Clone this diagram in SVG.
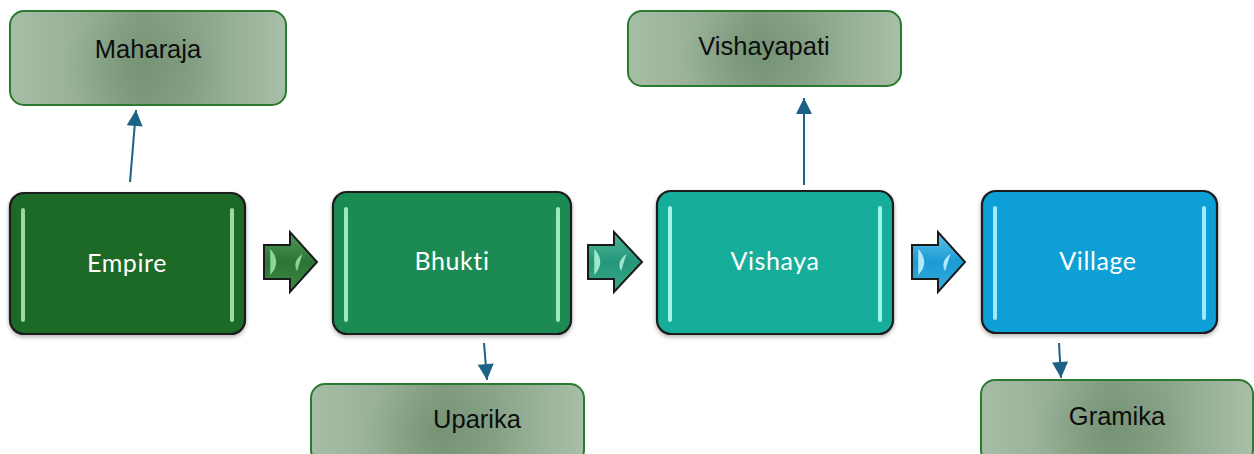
<svg xmlns="http://www.w3.org/2000/svg" width="1254" height="454" viewBox="0 0 1254 454">
<style>
.main{stroke:#1a1a1a;stroke-width:2.2}
.mlabel{font-family:Lato,"Open Sans","DejaVu Sans",sans-serif;font-size:25px;fill:#ffffff;text-anchor:middle;letter-spacing:0.6px}
.sub{stroke:#2b7a30;stroke-width:2;fill:url(#subg)}
.subov{fill:url(#subr);stroke:none}
.slabel{font-family:"Liberation Sans",Arial,sans-serif;font-size:25.5px;fill:#0d0d0d;text-anchor:middle}
.hl{stroke-width:4;stroke-linecap:round;fill:none}
.conn{stroke:#1c6286;stroke-width:2;fill:none}
.chev{stroke:#1a1a1a;stroke-width:2}
</style>
<defs>
<linearGradient id="subg" x1="0" y1="0" x2="1" y2="0">
<stop offset="0" stop-color="#a6bea6"/>
<stop offset="0.25" stop-color="#97b097"/>
<stop offset="0.48" stop-color="#819d81"/>
<stop offset="0.68" stop-color="#8aa58a"/>
<stop offset="1" stop-color="#a8bfa8"/>
</linearGradient>
<radialGradient id="subr" cx="0.48" cy="0.6" r="0.5" gradientTransform="translate(0.48 0.6) scale(0.6 1.3) translate(-0.48 -0.6)">
<stop offset="0" stop-color="#5f7f5f" stop-opacity="0.35"/>
<stop offset="1" stop-color="#5f7f5f" stop-opacity="0"/>
</radialGradient>
<linearGradient id="c1" x1="0" y1="0" x2="0" y2="1">
<stop offset="0" stop-color="#4f9a5a"/><stop offset="0.5" stop-color="#2a7434"/><stop offset="1" stop-color="#3e8a48"/>
</linearGradient>
<linearGradient id="c2" x1="0" y1="0" x2="0" y2="1">
<stop offset="0" stop-color="#4fb894"/><stop offset="0.5" stop-color="#25967a"/><stop offset="1" stop-color="#3aa887"/>
</linearGradient>
<linearGradient id="c3" x1="0" y1="0" x2="0" y2="1">
<stop offset="0" stop-color="#5cc2ec"/><stop offset="0.5" stop-color="#1c9ad2"/><stop offset="1" stop-color="#37ade0"/>
</linearGradient>
<filter id="sh" x="-10%" y="-10%" width="120%" height="125%">
<feDropShadow dx="0" dy="2" stdDeviation="2" flood-color="#000" flood-opacity="0.3"/>
</filter>
<marker id="ah2" viewBox="0 0 16 16" refX="16" refY="8" markerWidth="17" markerHeight="16" markerUnits="userSpaceOnUse" orient="auto">
<path d="M0,0 L16,8 L0,16 z" fill="#1c6286"/>
</marker>
</defs>
<rect width="1254" height="454" fill="#ffffff"/>

<g id="connectors">
<line class="conn" x1="130" y1="182" x2="136" y2="110" marker-end="url(#ah2)"/>
<line class="conn" x1="804" y1="185" x2="804" y2="98" marker-end="url(#ah2)"/>
<line class="conn" x1="484" y1="343" x2="487" y2="380" marker-end="url(#ah2)"/>
<line class="conn" x1="1059" y1="343" x2="1061" y2="378" marker-end="url(#ah2)"/>
<g id="chevron1">
<path class="chev" fill="url(#c1)" d="M264,245 L290,245 L290,232 L317,262 L290,292 L290,279 L264,279 Z"/>
<path d="M271,251 Q280,262 271,273 Z" fill="#8fd39a" stroke="#8fd39a" stroke-width="1.5"/>
<path d="M301,256 Q294,262 297,269 Q299,262 301,256 Z" fill="#8fd39a" stroke="#8fd39a" stroke-width="1.5"/>
</g>
<g id="chevron2">
<path class="chev" fill="url(#c2)" d="M588,245 L614,245 L614,232 L642,262 L614,292 L614,279 L588,279 Z"/>
<path d="M595,251 Q604,262 595,273 Z" fill="#9de8cc" stroke="#9de8cc" stroke-width="1.5"/>
<path d="M625,256 Q618,262 621,269 Q623,262 625,256 Z" fill="#9de8cc" stroke="#9de8cc" stroke-width="1.5"/>
</g>
<g id="chevron3">
<path class="chev" fill="url(#c3)" d="M912,245 L938,245 L938,232 L965,262 L938,292 L938,279 L912,279 Z"/>
<path d="M919,251 Q928,262 919,273 Z" fill="#b0eafc" stroke="#b0eafc" stroke-width="1.5"/>
<path d="M949,256 Q942,262 945,269 Q947,262 949,256 Z" fill="#b0eafc" stroke="#b0eafc" stroke-width="1.5"/>
</g>
</g>

<g id="maharaja">
<rect class="sub" x="10" y="11" width="276" height="94" rx="14"/>
<rect class="subov" x="11" y="12" width="274" height="92" rx="13"/>
<text class="slabel" x="148" y="58">Maharaja</text>
</g>
<g id="vishayapati">
<rect class="sub" x="628" y="11" width="273" height="75" rx="14"/>
<rect class="subov" x="629" y="12" width="271" height="73" rx="13"/>
<text class="slabel" x="764" y="55">Vishayapati</text>
</g>
<g id="uparika">
<rect class="sub" x="311" y="384" width="273" height="80" rx="14"/>
<rect class="subov" x="312" y="385" width="271" height="78" rx="13"/>
<text class="slabel" x="477" y="428">Uparika</text>
</g>
<g id="gramika">
<rect class="sub" x="981" y="380" width="272" height="84" rx="14"/>
<rect class="subov" x="982" y="381" width="270" height="82" rx="13"/>
<text class="slabel" x="1117" y="425">Gramika</text>
</g>

<g id="empire">
<rect class="main" filter="url(#sh)" x="10" y="193" width="235" height="141" rx="14" fill="#1b6a28"/>
<line class="hl" x1="23" y1="210" x2="23" y2="320" stroke="#9ad9a2"/>
<line class="hl" x1="232" y1="210" x2="232" y2="320" stroke="#9ad9a2"/>
<text class="mlabel" x="127" y="272">Empire</text>
</g>
<g id="bhukti">
<rect class="main" filter="url(#sh)" x="333" y="192" width="238" height="142" rx="14" fill="#1d8a52"/>
<line class="hl" x1="346" y1="209" x2="346" y2="320" stroke="#a0e8bd"/>
<line class="hl" x1="558" y1="209" x2="558" y2="320" stroke="#a0e8bd"/>
<text class="mlabel" x="452" y="270">Bhukti</text>
</g>
<g id="vishaya">
<rect class="main" filter="url(#sh)" x="657" y="191" width="236" height="143" rx="14" fill="#14ad9a"/>
<line class="hl" x1="670" y1="208" x2="670" y2="320" stroke="#a2f4e8"/>
<line class="hl" x1="880" y1="208" x2="880" y2="320" stroke="#a2f4e8"/>
<text class="mlabel" x="775" y="270">Vishaya</text>
</g>
<g id="village">
<rect class="main" filter="url(#sh)" x="982" y="191" width="235" height="142" rx="14" fill="#119fd5"/>
<line class="hl" x1="995" y1="208" x2="995" y2="318" stroke="#9ceafc"/>
<line class="hl" x1="1204" y1="208" x2="1204" y2="318" stroke="#9ceafc"/>
<text class="mlabel" x="1098" y="270">Village</text>
</g>
</svg>
